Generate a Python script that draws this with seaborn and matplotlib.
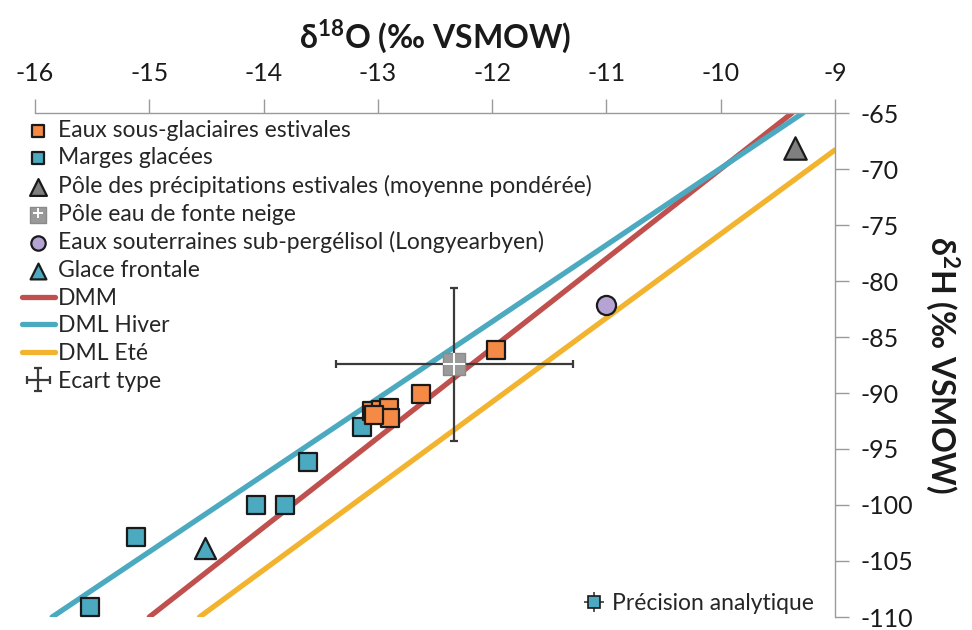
import matplotlib
matplotlib.use('Agg')
import matplotlib.pyplot as plt
import seaborn as sns
import pandas as pd
from matplotlib.lines import Line2D

# --- data (d18O, d2H in permil VSMOW) ---
sousglac_x = [-11.97, -12.62, -13.05, -12.97, -12.90, -12.89, -13.03]
sousglac_y = [-86.2, -90.1, -91.6, -91.5, -91.3, -92.2, -92.0]

marges_x = [-13.14, -13.61, -14.07, -13.81, -15.12, -15.52]
marges_y = [-93.0, -96.2, -100.0, -100.0, -102.9, -109.1]

precip_x = [-9.35]
precip_y = [-68.1]

neige_x = [-12.33]
neige_y = [-87.45]
neige_xerr = [1.04]
neige_yerr = [6.85]

souterr_x = [-11.0]
souterr_y = [-82.1]

glace_x = [-14.51]
glace_y = [-103.8]

# meteoric water lines, end points where they leave the frame
dmm_x, dmm_y = [-15.0, -9.375], [-110, -65]
hiver_x, hiver_y = [-15.85, -9.28], [-110, -65]
ete_x, ete_y = [-14.56, -9.0], [-110, -68.3]

x_ticks = [-16, -15, -14, -13, -12, -11, -10, -9]
y_ticks = [-65, -70, -75, -80, -85, -90, -95, -100, -105, -110]

orange = '#F48A45'
teal = '#4BA9C0'
red = '#C0504D'
yellow = '#F2B42E'

sns.set_theme(style='white')
plt.rcParams['font.family'] = ['Lato', 'DejaVu Sans']
plt.rcParams['mathtext.fontset'] = 'custom'
plt.rcParams['mathtext.rm'] = 'Lato'
plt.rcParams['mathtext.bf'] = 'Lato:bold'

fig = plt.figure(figsize=(9.72, 6.3), dpi=100)
ax = fig.add_axes([35 / 972, 1 - 617 / 630, 800 / 972, 504 / 630])

lw = 3.8
sns.lineplot(x=dmm_x, y=dmm_y, ax=ax, color=red, lw=lw, sort=False, label='DMM', zorder=2)
sns.lineplot(x=hiver_x, y=hiver_y, ax=ax, color=teal, lw=lw, sort=False, label='DML Hiver', zorder=2)
sns.lineplot(x=ete_x, y=ete_y, ax=ax, color=yellow, lw=lw, sort=False, label='DML Eté', zorder=2)

eb = ax.errorbar(neige_x, neige_y, xerr=neige_xerr, yerr=neige_yerr, fmt='none',
                 ecolor='#3a3a3a', elinewidth=1.6, capsize=3, capthick=1.6, zorder=3,
                 label='Ecart type')

ec = '#1a1a1a'
sns.scatterplot(x=marges_x, y=marges_y, ax=ax, marker='s', s=150, color=teal,
                edgecolor=ec, linewidth=1.6, label='Marges glacées', zorder=4)
sns.scatterplot(x=sousglac_x, y=sousglac_y, ax=ax, marker='s', s=150, color=orange,
                edgecolor=ec, linewidth=1.6, label='Eaux sous-glaciaires estivales', zorder=5)
sns.scatterplot(x=precip_x, y=precip_y, ax=ax, marker='^', s=260, color='#7f7f7f',
                edgecolor=ec, linewidth=1.6,
                label='Pôle des précipitations estivales (moyenne pondérée)', zorder=5)
sns.scatterplot(x=neige_x, y=neige_y, ax=ax, marker='s', s=240, color='#9a9a9a',
                edgecolor='#8a8a8a', linewidth=1, label='Pôle eau de fonte neige', zorder=5)
sns.scatterplot(x=neige_x, y=neige_y, ax=ax, marker='+', s=240, color='white',
                linewidth=1.4, zorder=6)
sns.scatterplot(x=souterr_x, y=souterr_y, ax=ax, marker='o', s=190, color='#B4A3D3',
                edgecolor=ec, linewidth=1.6,
                label='Eaux souterraines sub-pergélisol (Longyearbyen)', zorder=5)
sns.scatterplot(x=glace_x, y=glace_y, ax=ax, marker='^', s=230, color=teal,
                edgecolor=ec, linewidth=1.6, label='Glace frontale', zorder=5)

handles, labels = ax.get_legend_handles_labels()
hmap = dict(zip(labels, handles))
neige_icon = (hmap['Pôle eau de fonte neige'],
              Line2D([], [], marker='+', ls='none', color='white', ms=10, mew=1.4))
order = ['Eaux sous-glaciaires estivales', 'Marges glacées',
         'Pôle des précipitations estivales (moyenne pondérée)', 'Pôle eau de fonte neige',
         'Eaux souterraines sub-pergélisol (Longyearbyen)', 'Glace frontale',
         'DMM', 'DML Hiver', 'DML Eté', 'Ecart type']
hlist = [neige_icon if o == 'Pôle eau de fonte neige' else hmap[o] for o in order]
leg = ax.legend(hlist, order, loc='upper left', bbox_to_anchor=(-0.028, 1.005), frameon=False,
                fontsize=16.5, handlelength=1.45, handletextpad=0.12, labelspacing=0.29,
                borderaxespad=0.0, markerscale=0.75)
ax.add_artist(leg)

prec = (Line2D([], [], marker='+', ls='none', color='#3a3a3a', ms=14, mew=1.2),
        Line2D([], [], marker='s', ls='none', color=teal, mec=ec, mew=1.2, ms=9))
ax.legend([prec], ['Précision analytique'], loc='lower right', frameon=False,
          fontsize=16.5, handlelength=1.0, handletextpad=0.3, borderaxespad=0.0,
          bbox_to_anchor=(0.985, -0.012))

ax.set_xlim(-16, -9)
ax.set_ylim(-110, -65)
ax.set_xticks(x_ticks)
ax.set_yticks(y_ticks)
ax.set_xticklabels([str(t) for t in x_ticks])
ax.set_yticklabels([str(t) for t in y_ticks])

ax.xaxis.tick_top()
ax.yaxis.tick_right()
ax.xaxis.set_label_position('top')
ax.yaxis.set_label_position('right')
ax.tick_params(axis='both', direction='out', length=10, width=1, color='#9a9a9a',
               labelsize=18, labelcolor='#1a1a1a')
ax.tick_params(axis='x', pad=10)
ax.tick_params(axis='y', pad=8)

for side in ['left', 'bottom']:
    ax.spines[side].set_visible(False)
for side in ['top', 'right']:
    ax.spines[side].set_color('#9a9a9a')
    ax.spines[side].set_linewidth(1)

ax.set_xlabel('δ$^{\\mathbf{18}}$O (‰ VSMOW)', fontsize=23, fontweight='bold',
              labelpad=10, color='#1a1a1a')
ax.set_ylabel('δ$^{\\mathbf{2}}$H (‰ VSMOW)', fontsize=23, fontweight='bold',
              rotation=270, labelpad=35, color='#1a1a1a')

plt.savefig('out.png', dpi=100)
